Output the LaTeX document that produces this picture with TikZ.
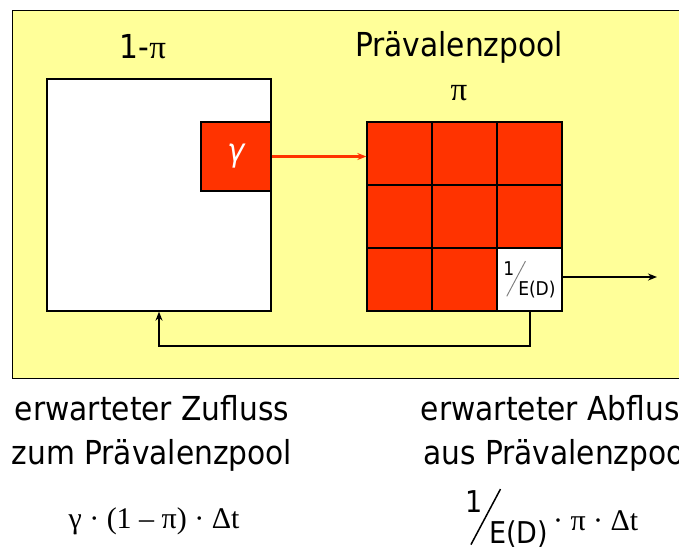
\documentclass[tikz,border=0pt]{standalone}
\usepackage{fontspec}
\setmainfont{DejaVu Sans Condensed}
\newfontfamily\griech{Liberation Serif}
\usepackage{graphicx}
\usetikzlibrary{arrows.meta}

\definecolor{poolgelb}{HTML}{FFFF99}
\definecolor{poolrot}{HTML}{FF3300}

% 1/E(D) mit schraegem Bruchstrich
\newcommand{\kehrwert}[3][black]{\raisebox{.6em}{#2}\kern-.42em\raisebox{-.5em}{\textcolor{#1}{\rotatebox{62}{\rule{2.1em}{.05em}}}}\kern-.4em\raisebox{-.45em}{#3}}

\begin{document}
\begin{tikzpicture}[x=1pt, y=-1pt, >={Stealth[length=9pt,width=7pt]},
  zelle/.style={draw, line width=1.3pt, fill=poolrot, minimum width=65pt, minimum height=63pt, inner sep=0pt},
  gross/.style={font=\fontsize{33}{44}\selectfont, align=center},
  formel/.style={font=\fontsize{30}{34}\selectfont}]
  \useasboundingbox (0,0) rectangle (679,550);
  \clip (0,0) rectangle (679,550);
  \draw[fill=poolgelb, line width=1pt] (12,10) rectangle (700,378);

  % nicht erkrankte Population
  \node[draw, line width=1.3pt, fill=white, minimum width=224pt, minimum height=232pt, inner sep=0pt] (rest) at (159,195) {};
  \node[draw, line width=1.3pt, fill=poolrot, minimum width=70pt, minimum height=69pt, inner sep=0pt,
        text=white, font=\fontsize{32}{36}\selectfont\itshape] (gamma) at (236,156.5) {γ};
  \node[gross] (einsminuspi) at (143,47) {1-{\griech π}};

  % Praevalenzpool
  \foreach \r in {1,2,3} {
    \foreach \c in {1,2,3} {
      \node[zelle] (c-\r-\c) at ({367+65*(\c-0.5)}, {122+63*(\r-0.5)}) {};
    }
  }
  \node[zelle, fill=white, font=\fontsize{19}{22}\selectfont] (c-3-3) at (529.5,279.5) {\kehrwert[gray]{1}{E(D)}};
  \node[gross] (pool) at (459,47) {Prävalenzpool};
  \node[gross] (pi) at (459,93) {\griech π};

  % Fluesse
  \coordinate (abfluss) at (657,277);
  \draw[->, poolrot, line width=2.2pt] (gamma.east) -- (gamma.east -| c-1-1.west);
  \draw[->, line width=2pt] (c-3-3.east |- abfluss) -- (abfluss);
  \draw[->, line width=2pt] (c-3-3.south) -- ++(0,34) -| (rest.south);

  % Erlaeuterungen
  \node[gross] (zufluss) at (152,433) {erwarteter Zufluss\\zum Prävalenzpool};
  \node[formel] (zuformel) at (154,521) {\griech γ · (1 – π) · Δt};
  \node[gross] (abfl) at (558,433) {erwarteter Abfluss\\aus Prävalenzpool};
  \node[formel, anchor=base] (abformel) at (552,530) {\kehrwert{1}{E(D)}\,{\griech · π · Δt}};
\end{tikzpicture}
\end{document}
